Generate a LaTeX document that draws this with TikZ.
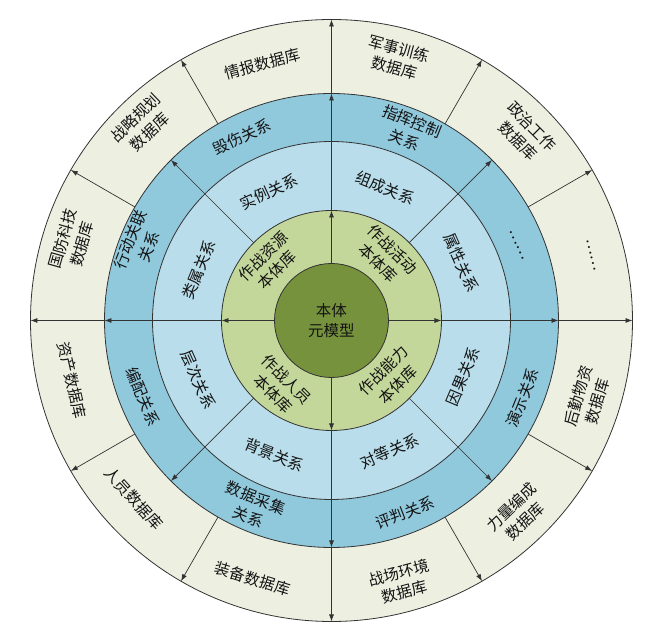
\documentclass[tikz,border=0pt]{standalone}
\usepackage{fontspec}
\newfontfamily\cjk{Noto Sans CJK SC}
\usetikzlibrary{arrows.meta}

\definecolor{coregreen}{HTML}{76923C}
\definecolor{libgreen}{HTML}{C4D79B}
\definecolor{relblue}{HTML}{B9DDEA}
\definecolor{linkblue}{HTML}{90C8DC}
\definecolor{dbbeige}{HTML}{EDF0E1}

\begin{document}
\begin{tikzpicture}[x=1pt, y=1pt,
    ring/.style={draw=black!80, line width=0.8pt},
    lbl/.style={font=\cjk\fontsize{15.5}{20}\selectfont, align=center, text=black!92},
    arr/.style={draw=black!80, line width=0.7pt, -{Latex[length=7pt,width=5pt]}}]

    \useasboundingbox (-331.5,-315.5) rectangle (314.5,320.5);

    % rings
    \draw[ring, fill=dbbeige] (0,0) circle[radius=301];
    \draw[ring, fill=linkblue] (0,0) circle[radius=227];
    \draw[ring, fill=relblue] (0,0) circle[radius=179];
    \draw[ring, fill=libgreen] (0,0) circle[radius=110];
    \draw[ring, fill=coregreen] (0,0) circle[radius=57];

    % axes
    \draw[arr] (0:57) -- (0:110);
    \draw[arr] (0:110) -- (0:227);
    \draw[arr] (0:227) -- (0:301);
    \draw[arr] (90:57) -- (90:110);
    \draw[arr] (90:110) -- (90:227);
    \draw[arr] (90:227) -- (90:301);
    \draw[arr] (180:57) -- (180:110);
    \draw[arr] (180:110) -- (180:227);
    \draw[arr] (180:227) -- (180:301);
    \draw[arr] (270:57) -- (270:110);
    \draw[arr] (270:110) -- (270:227);
    \draw[arr] (270:227) -- (270:301);

    % relation dividers
    \draw[arr] (45:110) -- (45:227);
    \draw[arr] (135:110) -- (135:227);
    \draw[arr] (225:110) -- (225:227);
    \draw[arr] (315:110) -- (315:227);

    % database dividers
    \draw[arr] (30:227) -- (30:301);
    \draw[arr] (60:227) -- (60:301);
    \draw[arr] (120:227) -- (120:301);
    \draw[arr] (150:227) -- (150:301);
    \draw[arr] (210:227) -- (210:301);
    \draw[arr] (240:227) -- (240:301);
    \draw[arr] (300:227) -- (300:301);
    \draw[arr] (330:227) -- (330:301);

    % core and ontology libraries
    \node[lbl] (core) at (0,0) {本体\\元模型};
    \node[lbl, rotate=45] (resource) at (137:84) {作战资源\\本体库};
    \node[lbl, rotate=-45] (activity) at (50:84) {作战活动\\本体库};
    \node[lbl, rotate=45] (capability) at (-44:82) {作战能力\\本体库};
    \node[lbl, rotate=-45] (personnel) at (232:84) {作战人员\\本体库};

    % inner relations
    \node[lbl, rotate=25] (instance) at (116:143) {实例关系};
    \node[lbl, rotate=-22] (composition) at (68:143) {组成关系};
    \node[lbl, rotate=-66] (attribute) at (24:142) {属性关系};
    \node[lbl, rotate=67] (causal) at (-23:143) {因果关系};
    \node[lbl, rotate=24] (peer) at (-66:143) {对等关系};
    \node[lbl, rotate=-22] (background) at (247:146) {背景关系};
    \node[lbl, rotate=-66] (hierarchy) at (204:146) {层次关系};
    \node[lbl, rotate=68] (category) at (159:142) {类属关系};

    % outer relations
    \node[lbl, rotate=25] (damage) at (116:204) {毁伤关系};
    \node[lbl, rotate=-22] (command) at (68:205) {指挥控制\\关系};
    \node[lbl, rotate=-67] (dotsin) at (22:200) {……};
    \node[lbl, rotate=68] (demo) at (-22:206) {演示关系};
    \node[lbl, rotate=21] (judge) at (-69:206) {评判关系};
    \node[lbl, rotate=-22] (collect) at (247:203) {数据采集\\关系};
    \node[lbl, rotate=-67] (allocate) at (202:203) {编配关系};
    \node[lbl, rotate=68] (action) at (158:207) {行动关联\\关系};

    % databases
    \node[lbl, rotate=15] (intel) at (105:266) {情报数据库};
    \node[lbl, rotate=-15] (training) at (76:270) {军事训练\\数据库};
    \node[lbl, rotate=-45] (political) at (44:269) {政治工作\\数据库};
    \node[lbl, rotate=-76] (dotsout) at (14:268) {……};
    \node[lbl, rotate=74] (logistics) at (-17:268) {后勤物资\\数据库};
    \node[lbl, rotate=44] (force) at (-46:269) {力量编成\\数据库};
    \node[lbl, rotate=15] (field) at (-75:271) {战场环境\\数据库};
    \node[lbl, rotate=-17] (equip) at (253:270) {装备数据库};
    \node[lbl, rotate=-48] (staff) at (222:266) {人员数据库};
    \node[lbl, rotate=-77] (asset) at (193:266) {资产数据库};
    \node[lbl, rotate=74] (defense) at (163:271) {国防科技\\数据库};
    \node[lbl, rotate=44] (strategy) at (134:272) {战略规划\\数据库};

\end{tikzpicture}
\end{document}
